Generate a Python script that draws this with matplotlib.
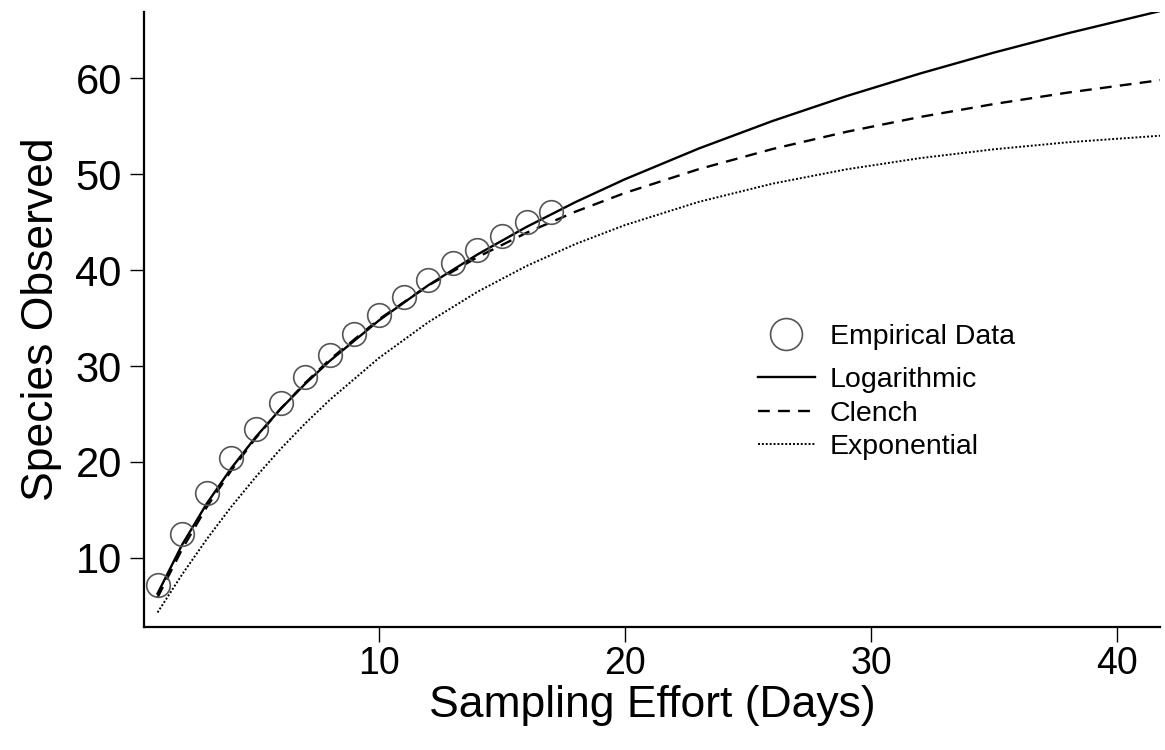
import matplotlib
matplotlib.use("Agg")
import matplotlib.pyplot as plt

plt.rcParams["font.family"] = ["Liberation Sans", "DejaVu Sans"]

# observed accumulation of species by sampling day
days = list(range(1, 18))
species = [7.2, 12.5, 16.8, 20.4, 23.4, 26.1, 28.85, 31.1, 33.3,
           35.3, 37.2, 39.0, 40.7, 42.1, 43.6, 45.0, 46.1]

# fitted accumulation curves, read at these efforts
curve_days = [1, 2, 3, 4, 5, 6, 7, 8, 10, 12, 14, 16, 18, 20,
              23, 26, 29, 32, 35, 38, 42]
log_curve = [6.28, 11.38, 15.66, 19.36, 22.62, 25.52, 28.14, 30.53, 34.75,
             38.41, 41.62, 44.50, 47.10, 49.47, 52.67, 55.54, 58.13, 60.49,
             62.67, 64.68, 67.15]
clench_curve = [5.88, 10.92, 15.30, 19.13, 22.52, 25.54, 28.23, 30.67, 34.87,
                38.38, 41.34, 43.89, 46.10, 48.04, 50.52, 52.62, 54.41, 55.96,
                57.31, 58.50, 59.88]
exp_curve = [4.31, 8.28, 11.95, 15.34, 18.46, 21.35, 24.01, 26.47, 30.84,
             34.56, 37.73, 40.43, 42.73, 44.69, 47.11, 49.01, 50.50, 51.67,
             52.59, 53.32, 54.05]

x_ticks = [10, 20, 30, 40]
y_ticks = [10, 20, 30, 40, 50, 60]

fig = plt.figure(figsize=(11.65, 7.5), dpi=100)
ax = fig.add_axes([144 / 1165, 1 - 627 / 750, 1016 / 1165, 615 / 750])

pts, = ax.plot(days, species, linestyle="none", marker="o", markersize=17,
               markerfacecolor="none", markeredgecolor="#555555",
               markeredgewidth=1.2, label="Empirical Data", zorder=3)
l_log, = ax.plot(curve_days, log_curve, color="black", lw=1.7,
                 solid_joinstyle="round", label="Logarithmic")
l_cl, = ax.plot(curve_days, clench_curve, color="black", lw=1.7,
                linestyle=(0, (5, 3.5)), label="Clench")
l_exp, = ax.plot(curve_days, exp_curve, color="black", lw=1.4,
                 linestyle=(0, (1, 1)), label="Exponential")

ax.set_xlim(0.45, 41.75)
ax.set_ylim(2.8, 66.9)
ax.set_xticks(x_ticks)
ax.set_yticks(y_ticks)
ax.tick_params(axis="x", labelsize=27, length=11, width=1, pad=3)
ax.tick_params(axis="y", labelsize=30, length=10, width=1, pad=6)

for side in ("top", "right"):
    ax.spines[side].set_visible(False)
for side in ("left", "bottom"):
    ax.spines[side].set_linewidth(1.6)

ax.set_xlabel("Sampling Effort (Days)", fontsize=32, labelpad=2)
ax.set_ylabel("Species Observed", fontsize=32, labelpad=10)

# legend in two parts: the big circle gets its own row with more room
leg_opts = dict(loc="center left", frameon=False, fontsize=20.5,
                handlelength=2.0, handletextpad=0.53, borderpad=0,
                borderaxespad=0)
leg1 = ax.legend(handles=[pts], bbox_to_anchor=(0.604, 0.472),
                 markerscale=1.35, **leg_opts)
ax.add_artist(leg1)
ax.legend(handles=[l_log, l_cl, l_exp], bbox_to_anchor=(0.604, 0.347),
          labelspacing=0.26, **leg_opts)

fig.savefig("out.png", dpi=100)
